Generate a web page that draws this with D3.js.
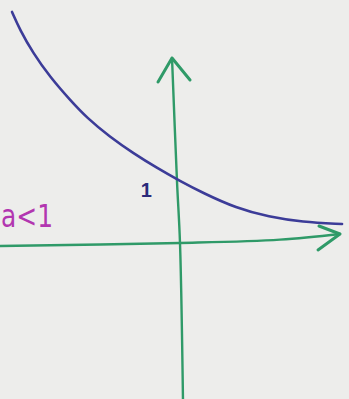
<!DOCTYPE html>
<html>
<head>
<meta charset="utf-8">
<script src="https://cdn.jsdelivr.net/npm/d3@7"></script>
<style>
  html, body { margin: 0; padding: 0; background: #ededeb; }
  svg { display: block; }
</style>
</head>
<body>
<svg id="chart" width="349" height="399"></svg>
<script>
// Sketch of y = a^x for 0 < a < 1, in axis units
const curveX = [-2.545, -2.424, -2.227, -1.970, -1.667, -1.409, -1.061, -0.712, -0.348, 0, 0.348, 0.848, 1.348, 1.848, 2.455];
const curveY = [3.683, 3.397, 3.032, 2.651, 2.286, 2.0, 1.698, 1.444, 1.206, 1.0, 0.810, 0.571, 0.429, 0.349, 0.317];

// Hand-drawn axes (points along each stroke, in axis units)
const xAxisX = [-2.727, 0, 1.515, 2.424];
const xAxisY = [-0.032, 0.016, 0.07, 0.159];
const yAxisX = [0.045, 0, -0.045, -0.121];
const yAxisY = [-2.46, 0.016, 0.984, 2.952];

// Arrow heads: barb, tip, barb
const xArrowX = [2.106, 2.424, 2.091];
const xArrowY = [0.286, 0.159, -0.095];
const yArrowX = [-0.333, -0.121, 0.152];
const yArrowY = [2.571, 2.952, 2.603];

// Labels
const interceptLabel = "1";
const conditionLabel = "a<1";

const W = 349, H = 399;
const ux = 66, uy = 63, ox = 180, oy = 244;
const sx = d3.scaleLinear().domain([-ox / ux, (W - ox) / ux]).range([0, W]);
const sy = d3.scaleLinear().domain([(oy - H) / uy, oy / uy]).range([H, 0]);

const svg = d3.select("#chart");
const pts = (xs, ys) => xs.map((x, i) => [x, ys[i]]);
const line = d3.line().x(d => sx(d[0])).y(d => sy(d[1]));

const green = "#2f9a68";

function stroke(xs, ys, curve, color, width) {
  svg.append("path")
    .attr("d", line.curve(curve)(pts(xs, ys)))
    .attr("fill", "none").attr("stroke", color).attr("stroke-width", width)
    .attr("stroke-linecap", "round").attr("stroke-linejoin", "round");
}

stroke(xAxisX, xAxisY, d3.curveCatmullRom, green, 2.4);
stroke(yAxisX, yAxisY, d3.curveCatmullRom, green, 2.4);
stroke(xArrowX, xArrowY, d3.curveLinear, green, 3);
stroke(yArrowX, yArrowY, d3.curveLinear, green, 3);

// Exponential decay curve
stroke(curveX, curveY, d3.curveBasis, "#3c3c98", 2.6);

// y-intercept label
svg.append("text")
  .attr("x", sx(-0.51)).attr("y", sy(0.75))
  .attr("text-anchor", "middle")
  .attr("font-family", "Liberation Sans, sans-serif")
  .attr("font-size", 20).attr("font-weight", "bold")
  .attr("fill", "#2a2a7a")
  .text(interceptLabel);

// condition on the base
svg.append("text")
  .attr("x", 1).attr("y", sy(0.27))
  .attr("font-family", "DejaVu Sans, sans-serif")
  .attr("font-size", 32)
  .attr("textLength", 52).attr("lengthAdjust", "spacingAndGlyphs")
  .attr("fill", "#b236b0")
  .text(conditionLabel);
</script>
</body>
</html>
